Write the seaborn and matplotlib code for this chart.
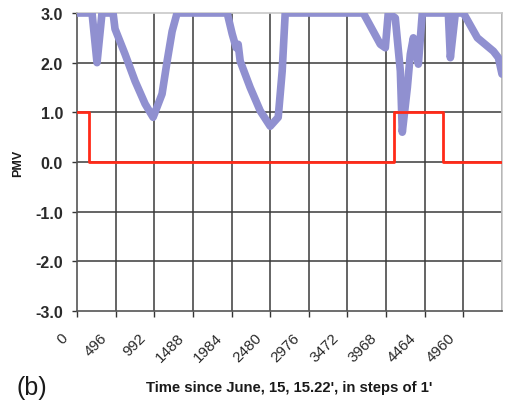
import numpy as np
import matplotlib
matplotlib.use('Agg')
import matplotlib.pyplot as plt
from matplotlib.transforms import ScaledTranslation
import pandas as pd
import seaborn as sns

# =========================
# DATA
# =========================
# PMV curve, breakpoints in minutes since start
pmv_time = [0, 193, 257, 321, 463, 488, 617, 745, 874, 977, 1092, 1157, 1221, 1285,
            1928, 1992, 2043, 2069, 2095, 2223, 2352, 2480, 2583, 2634, 2673,
            3675, 3804, 3894, 3958, 3996, 4086, 4151, 4176, 4241, 4279, 4318,
            4382, 4433, 4767, 4793, 4857, 4960, 5140, 5346, 5410, 5456]
pmv_value = [3.0, 3.0, 2.0, 3.0, 3.0, 2.68, 2.17, 1.63, 1.17, 0.9, 1.37, 2.03, 2.63, 3.0,
             3.0, 2.58, 2.3, 2.37, 2.03, 1.5, 1.03, 0.72, 0.9, 1.83, 3.0,
             3.0, 2.63, 2.37, 2.3, 3.0, 2.9, 1.83, 0.6, 1.5, 2.17, 2.5,
             1.97, 3.0, 3.0, 2.1, 3.0, 3.0, 2.5, 2.23, 2.1, 1.77]

# on/off signal (step)
switch_time = [0, 158, 158, 4064, 4064, 4694, 4694, 5456]
switch_value = [1, 1, 0, 0, 1, 1, 0, 0]

x_ticks = [0, 496, 992, 1488, 1984, 2480, 2976, 3472, 3968, 4464, 4960]
y_ticks = [-3.0, -2.0, -1.0, 0.0, 1.0, 2.0, 3.0]

# =========================
# PLOTTING SETUP
# =========================
sns.set_theme('paper')
sns.set_style('white')
plt.rcParams['font.family'] = ['Liberation Sans', 'DejaVu Sans']

fig = plt.figure(figsize=(5.05, 4.02), dpi=100)
ax = fig.add_axes([77 / 505, 1 - 312 / 402, 425 / 505, 298 / 402])

df_pmv = pd.DataFrame({'t': pmv_time, 'pmv': pmv_value})
df_sw = pd.DataFrame({'t': switch_time, 'pmv': switch_value})

for t in x_ticks[1:] + [5456]:
    ax.axvline(t, color='#3a3a3a', lw=1.1, zorder=1)
for v in y_ticks[1:-1]:
    ax.axhline(v, color='#3a3a3a', lw=1.1, zorder=1)

sns.lineplot(data=df_pmv, x='t', y='pmv', ax=ax, color='#9090d0', lw=5.5,
             sort=False, estimator=None, zorder=3)
sns.lineplot(data=df_sw, x='t', y='pmv', ax=ax, color='#ff2a18', lw=2.0,
             sort=False, estimator=None, zorder=4)

# =========================
# FORMATTING
# =========================
ax.set_xlim(0, 5456)
ax.set_ylim(-3.0, 3.0)
ax.set_xticks(x_ticks)
ax.set_yticks(y_ticks)

ax.tick_params(axis='both', which='both', direction='out', width=1,
               color='#333333', bottom=True, left=True)
ax.tick_params(axis='y', length=3.6, pad=6.5)
ax.tick_params(axis='x', length=4.3, pad=13)

ax.set_yticklabels([f'{v:.1f}' for v in y_ticks], fontsize=11.5, color='#2a2a2a',
                   fontweight='bold')
ax.set_xticklabels([str(t) for t in x_ticks], rotation=45, ha='right', va='center',
                   rotation_mode='anchor', fontsize=11, color='#2a2a2a')
# excel-style rotated labels sit a bit left of the tick
shift = ScaledTranslation(-11 / 100, 0, fig.dpi_scale_trans)
for lab in ax.get_xticklabels():
    lab.set_transform(lab.get_transform() + shift)

for side in ['top', 'right']:
    ax.spines[side].set_color('#c8c8c8')
    ax.spines[side].set_linewidth(1.2)
for side in ['left', 'bottom']:
    ax.spines[side].set_color('#555555')
    ax.spines[side].set_linewidth(1.2)

ax.set_xlabel("Time since June, 15, 15.22', in steps of 1'", fontsize=10.7,
              fontweight='bold', color='#1a1a1a')
ax.xaxis.set_label_coords(0.5, -0.232)
ax.set_ylabel('PMV', fontsize=9, fontweight='bold', color='#1a1a1a')
ax.yaxis.set_label_coords(-0.125, 0.5)

fig.text(17 / 505, 1 - 388 / 402, '(b)', fontsize=18, color='#1a1a1a', va='center')

fig.savefig('out.png', dpi=100)
